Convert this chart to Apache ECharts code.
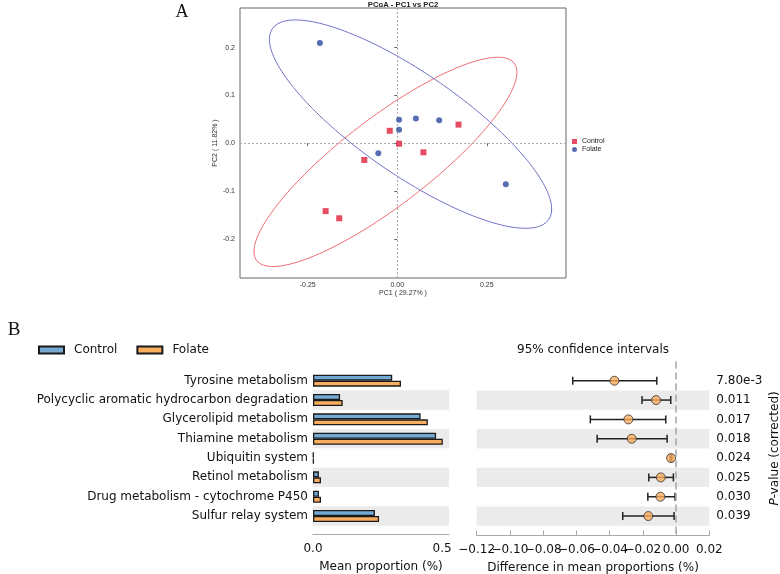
<!DOCTYPE html>
<html>
<head>
<meta charset="utf-8">
<script src="https://cdn.jsdelivr.net/npm/echarts@6/dist/echarts.min.js"></script>
<style>
  html, body { margin: 0; padding: 0; background: #fff; }
  #chart { width: 780px; height: 574px; }
</style>
</head>
<body>
<div id="chart"></div>
<script>
// ---- panel A: PCoA ----
const pcoaControl = [[0.171, 0.039], [-0.021, 0.026], [0.005, -0.001], [0.073, -0.019], [-0.092, -0.035], [-0.200, -0.142], [-0.162, -0.157]];
const pcoaFolate = [[-0.216, 0.210], [0.005, 0.049], [0.005, 0.028], [0.052, 0.052], [0.117, 0.048], [-0.053, -0.021], [0.303, -0.086]];
// ellipse: centre x, centre y, half width, half height, correlation
const ellipseControl = [-0.033, -0.039, 0.367, 0.219, 0.856];
const ellipseFolate = [0.037, 0.040, 0.394, 0.218, -0.815];
const pc1Ticks = [-0.25, 0, 0.25];
const pc2Ticks = [-0.2, -0.1, 0, 0.1, 0.2];

// ---- panel B: extended error bar ----
const pathways = ['Tyrosine metabolism', 'Polycyclic aromatic hydrocarbon degradation', 'Glycerolipid metabolism',
  'Thiamine metabolism', 'Ubiquitin system', 'Retinol metabolism', 'Drug metabolism - cytochrome P450', 'Sulfur relay system'];
const meanControl = [0.307, 0.105, 0.417, 0.477, 0.002, 0.023, 0.023, 0.240];
const meanFolate = [0.341, 0.115, 0.445, 0.503, 0.003, 0.031, 0.031, 0.256];
const diffMean = [-0.0371, -0.0120, -0.0287, -0.0267, -0.0030, -0.0092, -0.0094, -0.0167];
const ciLow = [-0.0622, -0.0205, -0.0516, -0.0475, -0.0035, -0.0164, -0.0170, -0.0321];
const ciHigh = [-0.0116, -0.0032, -0.0062, -0.0054, -0.0025, -0.0016, -0.0006, -0.0012];
const pValues = ['7.80e-3', '0.011', '0.017', '0.018', '0.024', '0.025', '0.030', '0.039'];
const meanTicks = [0, 0.5];
// the diff-axis labels overlap each other, so they're split over two axes
const diffTicksA = [-0.12, -0.08, -0.04, 0];
const diffTicksB = [-0.10, -0.06, -0.02, 0.02];

function ellipse(p) {
  const pts = [];
  for (let i = 0; i <= 180; i++) {
    const t = i / 180 * 2 * Math.PI;
    pts.push([p[0] + p[2] * Math.cos(t),
      p[1] + p[3] * (p[4] * Math.cos(t) + Math.sqrt(1 - p[4] * p[4]) * Math.sin(t))]);
  }
  return pts;
}

const bands = [];
pathways.forEach((d, i) => {
  if (i % 2 === 1) bands.push([{ yAxis: i - 0.5 }, { yAxis: i + 0.5 }]);
});

const minusFmt = (v) => {
  const r = Math.round(v * 100) / 100;
  return (r < 0 ? '\u2212' : '') + Math.abs(r).toFixed(2);
};

const pcoaFont = 'Liberation Sans';
const plain = { color: '#111', fontSize: 12, fontFamily: 'DejaVu Sans' };

const myChart = echarts.init(document.getElementById('chart'));

myChart.setOption({
  animation: false,
  textStyle: { fontFamily: 'DejaVu Sans' },
  graphic: [
    { type: 'text', x: 182, y: 12, style: { text: 'A', font: '18px "Liberation Serif"', fill: '#111', align: 'center', verticalAlign: 'middle' } },
    { type: 'text', x: 14, y: 330, style: { text: 'B', font: '19px "Liberation Serif"', fill: '#111', align: 'center', verticalAlign: 'middle' } },
    { type: 'text', x: 403, y: 5, style: { text: 'PCoA - PC1 vs PC2', font: 'bold 7.7px "Liberation Sans"', fill: '#222', align: 'center', verticalAlign: 'middle' } },
    { type: 'text', x: 593, y: 350, style: { text: '95% confidence intervals', font: '12px "DejaVu Sans"', fill: '#111', align: 'center', verticalAlign: 'middle' } }
  ],
  legend: [
    {
      data: [{ name: 'Control', icon: 'rect' }, { name: 'Folate', icon: 'circle' }],
      orient: 'vertical', left: 567, top: 133, itemWidth: 5, itemHeight: 5, itemGap: 1,
      textStyle: { fontSize: 7, fontFamily: pcoaFont, color: '#222' }
    },
    {
      data: [{ name: 'Control ', icon: 'rect' }, { name: 'Folate ', icon: 'rect' }],
      formatter: (n) => n.trim(),
      left: 33, top: 339, itemWidth: 25, itemHeight: 7, itemGap: 19,
      textStyle: { fontSize: 12, color: '#111', padding: [0, 0, 0, 5] }
    }
  ],
  grid: [
    { left: 240, right: 214, top: 8, bottom: 296, show: true, borderColor: '#666', borderWidth: 1, outerBoundsMode: 'none' },
    { left: 313, right: 331, top: 371, bottom: 48.3, outerBoundsMode: 'none' },
    { left: 476.7, right: 70.7, top: 361.4, bottom: 38.6, outerBoundsMode: 'none' }
  ],
  xAxis: [
    {
      type: 'value', gridIndex: 0, min: -0.439, max: 0.471,
      splitLine: { show: false }, axisLine: { show: false },
      axisTick: { customValues: pc1Ticks, length: 3, lineStyle: { color: '#666' } },
      axisLabel: { customValues: pc1Ticks, formatter: (v) => v.toFixed(2), fontSize: 7, fontFamily: pcoaFont, color: '#333', margin: 4 },
      name: 'PC1 ( 29.27% )', nameLocation: 'middle', nameGap: 10,
      nameTextStyle: { fontSize: 7, fontFamily: pcoaFont, color: '#333' }
    },
    {
      type: 'value', gridIndex: 1, min: 0, max: 0.527, offset: 9,
      splitLine: { show: false },
      axisLine: { show: true, onZero: false, lineStyle: { color: '#aaa', width: 1.2 } },
      axisTick: { customValues: meanTicks, inside: true, length: 5, lineStyle: { color: '#aaa' } },
      axisLabel: Object.assign({ customValues: meanTicks, formatter: (v) => v.toFixed(1), margin: 8 }, plain),
      name: 'Mean proportion (%)', nameLocation: 'middle', nameGap: 26,
      nameTextStyle: plain
    },
    {
      type: 'value', gridIndex: 2, min: -0.12, max: 0.02, interval: 0.02, position: 'bottom',
      splitLine: { show: false },
      axisLine: { show: true, onZero: false, lineStyle: { color: '#aaa', width: 1.2 } },
      axisTick: { inside: true, length: 5, lineStyle: { color: '#aaa' } },
      axisLabel: Object.assign({ customValues: diffTicksA, formatter: minusFmt, margin: 8 }, plain),
      name: 'Difference in mean proportions (%)', nameLocation: 'middle', nameGap: 26,
      nameTextStyle: plain
    },
    {
      type: 'value', gridIndex: 2, min: -0.12, max: 0.02, position: 'bottom',
      splitLine: { show: false },
      axisLine: { show: false, onZero: false }, axisTick: { show: false },
      axisLabel: Object.assign({ customValues: diffTicksB, formatter: minusFmt, margin: 8 }, plain)
    }
  ],
  yAxis: [
    {
      type: 'value', gridIndex: 0, min: -0.282, max: 0.283,
      splitLine: { show: false }, axisLine: { show: false },
      axisTick: { customValues: pc2Ticks, length: 3, lineStyle: { color: '#666' } },
      axisLabel: { customValues: pc2Ticks, formatter: (v) => v.toFixed(1), fontSize: 7, fontFamily: pcoaFont, color: '#333', margin: 5 },
      name: 'PC2 ( 11.82% )', nameLocation: 'middle', nameGap: 14,
      nameTextStyle: { fontSize: 7, fontFamily: pcoaFont, color: '#333' }
    },
    {
      type: 'category', gridIndex: 1, data: pathways, inverse: true,
      axisLine: { show: false }, axisTick: { show: false },
      axisLabel: Object.assign({ margin: 5 }, plain),
      splitArea: { show: true, areaStyle: { color: ['rgba(0,0,0,0)', '#ebebeb'] } }
    },
    {
      type: 'value', gridIndex: 2, min: -1, max: 8, interval: 1, inverse: true, position: 'right',
      splitLine: { show: false }, axisLine: { show: false }, axisTick: { show: false },
      axisLabel: Object.assign({ formatter: (v) => pValues[v] || '', margin: 7, align: 'left' }, plain),
      name: '{i|P}-value (corrected)', nameLocation: 'middle', nameGap: 60,
      nameTextStyle: Object.assign({ rich: { i: { fontStyle: 'italic', fontSize: 12, color: '#111' } } }, plain)
    }
  ],
  series: [
    {
      name: 'Control', type: 'scatter', xAxisIndex: 0, yAxisIndex: 0, data: pcoaControl,
      symbol: 'rect', symbolSize: 6, itemStyle: { color: '#e0203c' }, z: 5,
      markLine: {
        silent: true, symbol: 'none', label: { show: false },
        lineStyle: { color: '#aaa', type: [2, 2], width: 1 },
        data: [{ xAxis: 0 }, { yAxis: 0 }]
      }
    },
    {
      name: 'Folate', type: 'scatter', xAxisIndex: 0, yAxisIndex: 0, data: pcoaFolate,
      symbol: 'circle', symbolSize: 6, itemStyle: { color: '#2c4a9e' }, z: 5
    },
    {
      type: 'line', xAxisIndex: 0, yAxisIndex: 0, data: ellipse(ellipseControl),
      showSymbol: false, silent: true, lineStyle: { color: '#ee6b72', width: 1 }
    },
    {
      type: 'line', xAxisIndex: 0, yAxisIndex: 0, data: ellipse(ellipseFolate),
      showSymbol: false, silent: true, lineStyle: { color: '#6f72c6', width: 1 }
    },
    {
      name: 'Control ', type: 'bar', xAxisIndex: 1, yAxisIndex: 1, data: meanControl,
      barWidth: 6, barGap: '0%',
      itemStyle: { color: '#74a9d3', borderColor: '#1a1a1a', borderWidth: 1.3 }
    },
    {
      name: 'Folate ', type: 'bar', xAxisIndex: 1, yAxisIndex: 1, data: meanFolate,
      barWidth: 6, barGap: '0%',
      itemStyle: { color: '#f9ad5e', borderColor: '#1a1a1a', borderWidth: 1.3 }
    },
    {
      type: 'custom', xAxisIndex: 2, yAxisIndex: 2, silent: true, z: 3,
      data: pathways.map((d, i) => [ciLow[i], ciHigh[i], i]),
      renderItem(params, api) {
        const lo = api.coord([api.value(0), api.value(2)]);
        const hi = api.coord([api.value(1), api.value(2)]);
        const st = { stroke: '#222', lineWidth: 1.5 };
        const cap = 4;
        return {
          type: 'group', children: [
            { type: 'line', shape: { x1: lo[0], y1: lo[1], x2: hi[0], y2: hi[1] }, style: st },
            { type: 'line', shape: { x1: lo[0], y1: lo[1] - cap, x2: lo[0], y2: lo[1] + cap }, style: st },
            { type: 'line', shape: { x1: hi[0], y1: hi[1] - cap, x2: hi[0], y2: hi[1] + cap }, style: st }
          ]
        };
      }
    },
    {
      type: 'scatter', xAxisIndex: 2, yAxisIndex: 2, z: 4,
      data: pathways.map((d, i) => [diffMean[i], i]),
      symbolSize: 9, itemStyle: { color: '#f9ad5e', borderColor: '#333', borderWidth: 1 },
      markLine: {
        silent: true, symbol: 'none', label: { show: false },
        lineStyle: { color: '#aaa', type: [7, 4], width: 1.6 },
        data: [{ xAxis: 0 }]
      },
      markArea: {
        silent: true, itemStyle: { color: '#ebebeb' },
        data: bands
      }
    }
  ]
});
</script>
</body>
</html>
